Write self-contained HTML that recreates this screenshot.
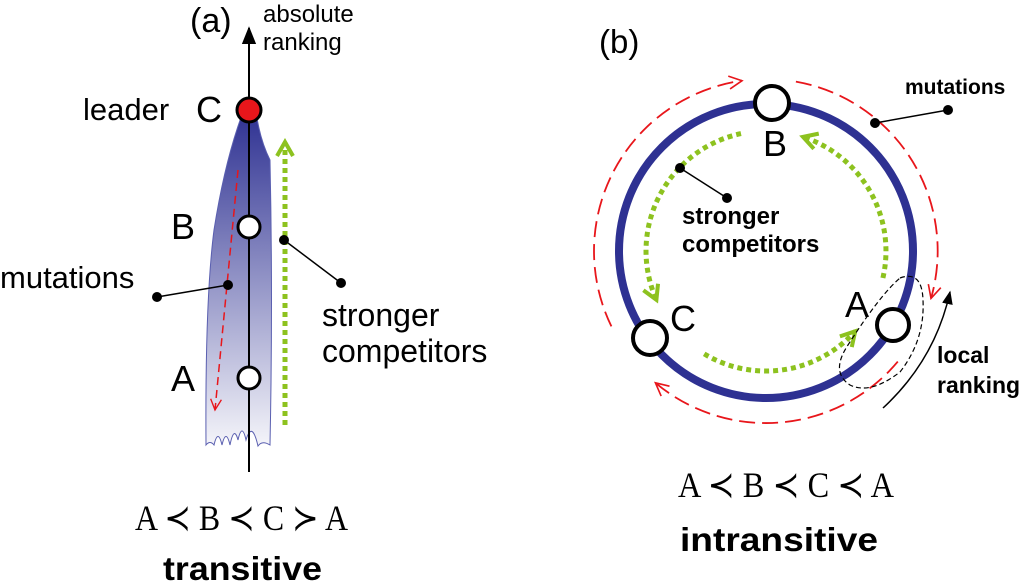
<!DOCTYPE html>
<html><head><meta charset="utf-8"><style>html,body{margin:0;padding:0;background:#fff}svg{display:block}</style></head><body>
<svg width="1024" height="585" viewBox="0 0 1024 585" xmlns="http://www.w3.org/2000/svg" font-family="Liberation Sans, sans-serif">
<defs>
<linearGradient id="g" x1="0" y1="0" x2="0" y2="1">
<stop offset="0" stop-color="#2e3192"/><stop offset="1" stop-color="#2e3192" stop-opacity="0.05"/></linearGradient>
<marker id="ga" viewBox="0 0 10 10" refX="8" refY="5" markerWidth="4" markerHeight="4" orient="auto"><path d="M1,1 L8,5 L1,9" fill="none" stroke="#8dc21f" stroke-width="2"/></marker>
<marker id="ra" viewBox="0 0 10 10" refX="9" refY="5" markerWidth="9" markerHeight="9" orient="auto"><path d="M1,1 L9,5 L1,9" fill="none" stroke="#e8161b" stroke-width="1"/></marker>
<marker id="ka" viewBox="0 0 10 10" refX="9" refY="5" markerWidth="9" markerHeight="9" orient="auto"><path d="M0,1 L10,5 L0,9 z" fill="#000"/></marker>
</defs>
<!-- panel a -->
<path d="M243,112 L256,112 Q260,140 270,160 Q273,300 270,445 Q262,440 258,446 Q252,420 246,440 Q242,422 238,440 Q234,425 230,445 Q226,428 222,445 Q218,428 214,445 Q210,440 206,445 Q205,300 214,230 Q225,160 243,112 Z" fill="url(#g)" stroke="#5a5fb0" stroke-width="1"/>
<line x1="249" y1="472" x2="249" y2="28" stroke="#000" stroke-width="2" marker-end="url(#ka)"/>
<line x1="238" y1="170" x2="215" y2="410" stroke="#e8161b" stroke-width="1.5" stroke-dasharray="8,5" marker-end="url(#ra)"/>
<line x1="285" y1="425" x2="285" y2="142" stroke="#8dc21f" stroke-width="5" stroke-dasharray="5,4" marker-end="url(#ga)"/>
<circle cx="249" cy="110" r="12" fill="#e8161b" stroke="#000" stroke-width="3"/>
<circle cx="249" cy="227" r="11" fill="#fff" stroke="#000" stroke-width="3"/>
<circle cx="249" cy="378" r="11" fill="#fff" stroke="#000" stroke-width="3"/>
<line x1="157" y1="297" x2="228" y2="285" stroke="#000" stroke-width="1.5"/>
<circle cx="157" cy="297" r="5"/><circle cx="228" cy="285" r="5"/>
<line x1="284" y1="240" x2="341" y2="283" stroke="#000" stroke-width="1.5"/>
<circle cx="284" cy="240" r="5"/><circle cx="341" cy="283" r="5"/>
<text x="190" y="32" font-size="34">(a)</text>
<text x="263" y="22" font-size="24">absolute</text>
<text x="263" y="50" font-size="24">ranking</text>
<text x="83" y="120" font-size="31">leader</text>
<text x="196" y="122" font-size="36">C</text>
<text x="171" y="239" font-size="36">B</text>
<text x="171" y="391" font-size="36">A</text>
<text x="0" y="288" font-size="31">mutations</text>
<text x="322" y="326" font-size="32">stronger</text>
<text x="322" y="362" font-size="32">competitors</text>
<text x="135" y="530" font-size="36" font-family="Liberation Serif, serif" textLength="213" lengthAdjust="spacingAndGlyphs">A ≺ B ≺ C ≻ A</text>
<text x="163" y="580" font-size="33" font-weight="bold" textLength="159" lengthAdjust="spacingAndGlyphs">transitive</text>
<!-- panel b -->
<circle cx="766" cy="251" r="147" fill="none" stroke="#2e3192" stroke-width="8"/>
<path d="M611.4,326.4 A172,172 0 0 1 742,80.7" fill="none" stroke="#e8161b" stroke-width="1.8" stroke-dasharray="16,7" marker-end="url(#ra)"/>
<path d="M795.9,81.6 A172,172 0 0 1 931,298.4" fill="none" stroke="#e8161b" stroke-width="1.8" stroke-dasharray="16,7" marker-end="url(#ra)"/>
<path d="M897.8,361.6 A172,172 0 0 1 655.4,382.8" fill="none" stroke="#e8161b" stroke-width="1.8" stroke-dasharray="16,7" marker-end="url(#ra)"/>
<path d="M741,133.6 A120,120 0 0 0 656.4,299.8" fill="none" stroke="#8dc21f" stroke-width="5" stroke-dasharray="5,4" marker-end="url(#ga)"/>
<path d="M704.2,353.9 A120,120 0 0 0 855.2,331.3" fill="none" stroke="#8dc21f" stroke-width="5" stroke-dasharray="5,4" marker-end="url(#ga)"/>
<path d="M882.9,278 A120,120 0 0 0 803,136.9" fill="none" stroke="#8dc21f" stroke-width="5" stroke-dasharray="5,4" marker-end="url(#ga)"/>
<path d="M900,278 Q922,270 923,300 Q925,340 900,372 Q870,395 850,385 Q830,372 848,345 Q880,295 900,278 Z" fill="none" stroke="#000" stroke-width="1.2" stroke-dasharray="5,3"/>
<path d="M883,408 Q935,360 950,292" fill="none" stroke="#000" stroke-width="1.5" marker-end="url(#ka)"/>
<circle cx="772" cy="103" r="17" fill="#fff" stroke="#000" stroke-width="4"/>
<circle cx="650" cy="338" r="17" fill="#fff" stroke="#000" stroke-width="4"/>
<circle cx="893" cy="325" r="16" fill="#fff" stroke="#000" stroke-width="4"/>
<line x1="875" y1="123" x2="948" y2="110" stroke="#000" stroke-width="1.5"/>
<circle cx="875" cy="123" r="5"/><circle cx="948" cy="110" r="5"/>
<line x1="680" y1="168" x2="727" y2="198" stroke="#000" stroke-width="1.5"/>
<circle cx="680" cy="168" r="5"/><circle cx="727" cy="198" r="5"/>
<text x="599" y="53" font-size="33">(b)</text>
<text x="763" y="156" font-size="36">B</text>
<text x="670" y="331" font-size="36">C</text>
<text x="845" y="317" font-size="36">A</text>
<text x="905" y="94" font-size="21" font-weight="bold">mutations</text>
<text x="682" y="224" font-size="24" font-weight="bold">stronger</text>
<text x="682" y="252" font-size="24" font-weight="bold">competitors</text>
<text x="937" y="363" font-size="23" font-weight="bold">local</text>
<text x="937" y="393" font-size="23" font-weight="bold">ranking</text>
<text x="678" y="497" font-size="36" font-family="Liberation Serif, serif" textLength="216" lengthAdjust="spacingAndGlyphs">A ≺ B ≺ C ≺ A</text>
<text x="680" y="551" font-size="33" font-weight="bold" textLength="198" lengthAdjust="spacingAndGlyphs">intransitive</text>
</svg>
</body></html>
